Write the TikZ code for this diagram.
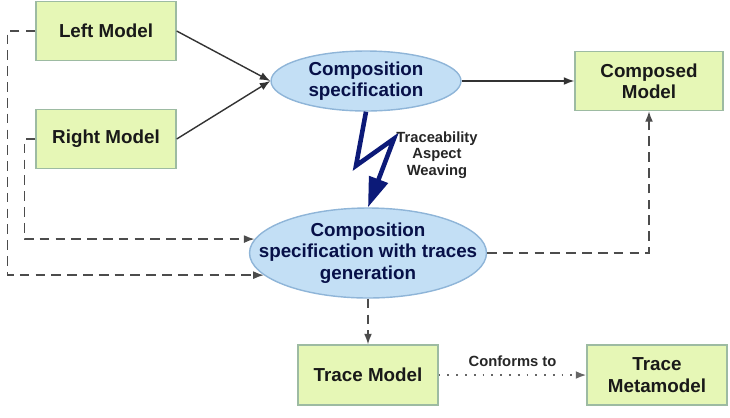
\documentclass[tikz,border=0pt]{standalone}
\usepackage{fontspec}
\setmainfont{Liberation Sans}
\usetikzlibrary{shapes.geometric, arrows.meta}

\definecolor{boxfill}{HTML}{E6F7B6}
\definecolor{boxline}{HTML}{9DBBA2}
\definecolor{ellfill}{HTML}{C3DFF5}
\definecolor{ellline}{HTML}{8FB5D8}
\definecolor{navy}{HTML}{0C1A78}

\begin{document}
\begin{tikzpicture}[x=0.02cm, y=-0.02cm,
  every node/.style={font=\fontsize{10.7}{12.2}\selectfont\bfseries, align=center},
  model/.style={rectangle, draw=boxline, thick, fill=boxfill, text=black!90,
    minimum width=2.8cm, minimum height=1.18cm},
  spec/.style={ellipse, draw=ellline, thick, fill=ellfill, text=navy!60!black,
    inner sep=0pt},
  seta/.style={-{Latex[length=6pt, width=4.5pt]}, line width=0.8pt, black!80},
  traco/.style={seta, dash pattern=on 5.5pt off 3.5pt, black!70},
  pontos/.style={seta, line width=1pt, dash pattern=on 1pt off 4pt, black!60},
  raio/.style={line width=2.6pt, navy, line join=miter,
    -{Triangle[length=17pt, width=11pt]}},
  rotulo/.style={font=\fontsize{8.4}{9.4}\selectfont\bfseries, text=black!85}
]
\useasboundingbox (0,0) rectangle (730,417);

% modelos de entrada
\node[model] (leftm) at (106,31) {Left Model};
\node[model] (rightm) at (106,139) {Right Model};

% especificacoes de composicao
\node[spec, minimum width=3.8cm, minimum height=1.2cm] (compspec) at (366,81) {Composition\\specification};
\node[spec, inner xsep=-0.55cm, minimum width=4.74cm, minimum height=1.8cm] (tracespec) at (368,253)
  {Composition\\specification with traces\\generation};

% modelos de saida
\node[model, minimum width=2.96cm] (composed) at (649,81) {Composed\\Model};
\node[model, minimum height=1.2cm] (tracem) at (368,375) {Trace Model};
\node[model, minimum height=1.2cm] (metam) at (657,375) {Trace\\Metamodel};

% composicao normal
\draw[seta] (leftm.east) -- (compspec.west);
\draw[seta] (rightm.east) -- (compspec.west);
\draw[seta] (compspec.east) -- (composed.west);

% tecelagem do aspecto de rastreabilidade
\draw[raio] (compspec.south) -- ++(-10,54) -- ++(38,-27) -- (tracespec.north);
\node[rotulo] (weave) at (437,155) {Traceability\\Aspect\\Weaving};

% composicao com rastros
\draw[traco] (leftm.west) -- ++(-28,0) |- (tracespec.192);
\draw[traco] (rightm.west) -- ++(-11,0) |- (tracespec.173);
\draw[traco] (tracespec.east) -| (composed.south);
\draw[traco] (tracespec.south) -- (tracem.north);
\draw[pontos] (tracem.east) -- node[rotulo, above=1pt] {Conforms to} (metam.west);
\end{tikzpicture}
\end{document}
